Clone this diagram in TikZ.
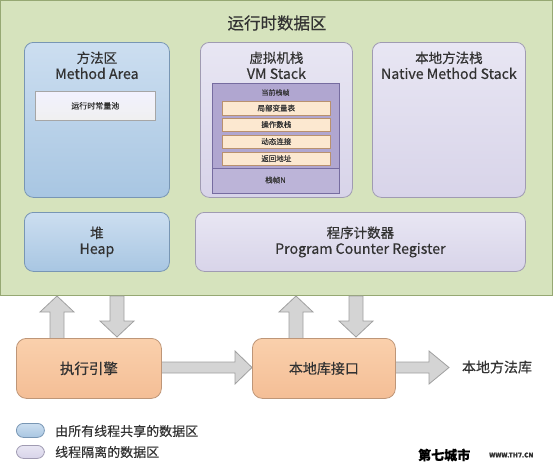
\documentclass[tikz,border=0pt]{standalone}
\usepackage{fontspec}
\setmainfont{Noto Sans CJK SC}[FakeBold=0.35]
\definecolor{greenbg}{RGB}{214,227,189}
\definecolor{greenbd}{RGB}{150,168,115}
\definecolor{bluetop}{RGB}{204,222,240}
\definecolor{bluebot}{RGB}{168,198,226}
\definecolor{bluebd}{RGB}{120,150,180}
\definecolor{purtop}{RGB}{232,230,243}
\definecolor{purbot}{RGB}{216,212,233}
\definecolor{purbd}{RGB}{160,155,178}
\definecolor{vmfill}{RGB}{188,180,216}
\definecolor{vmtop}{RGB}{176,166,208}
\definecolor{vmbd}{RGB}{118,108,160}
\definecolor{rowfill}{RGB}{252,232,208}
\definecolor{rowbd}{RGB}{185,145,110}
\definecolor{ortop}{RGB}{250,208,172}
\definecolor{orbot}{RGB}{244,190,150}
\definecolor{orbd}{RGB}{190,150,120}
\definecolor{arrfill}{RGB}{212,212,212}
\definecolor{arrbd}{RGB}{160,160,160}
\definecolor{txt}{RGB}{50,50,50}
\newcommand\lat{\fontsize{14.2}{16}\selectfont}
\tikzset{
  area/.style={anchor=north west, rounded corners=9pt, line width=0.8pt, inner sep=0pt},
  bluebox/.style={area, draw=bluebd, top color=bluetop, bottom color=bluebot},
  purbox/.style={area, draw=purbd, top color=purtop, bottom color=purbot},
  orbox/.style={area, rounded corners=10pt, draw=orbd, top color=ortop, bottom color=orbot},
  rowbox/.style={anchor=north west, draw=rowbd, fill=rowfill, line width=0.6pt, minimum width=108, minimum height=13.5, inner sep=0pt, text=txt, font=\fontsize{7.5}{8}\selectfont},
  fatarrow/.style={draw=arrbd, fill=arrfill, line width=0.8pt, line join=miter},
  big/.style={text=txt, align=center, font=\fontsize{13.5}{16}\selectfont},
}
\newcommand\varr[3]{%
  \pgfmathsetmacro\hb{#3>#2 ? #3-16 : #3+16}%
  \draw[fatarrow] (#1-7,#2) -- (#1-7,\hb) -- (#1-17,\hb) -- (#1,#3) -- (#1+17,\hb) -- (#1+7,\hb) -- (#1+7,#2) -- cycle;}
\newcommand\harr[4]{%
  \pgfmathsetmacro\hb{#3-#4}%
  \draw[fatarrow] (#2,#1-5.5) -- (\hb,#1-5.5) -- (\hb,#1-16.5) -- (#3,#1) -- (\hb,#1+16.5) -- (\hb,#1+5.5) -- (#2,#1+5.5) -- cycle;}
\begin{document}
\begin{tikzpicture}[x=1pt,y=-1pt]
\useasboundingbox (0,0) rectangle (554,464);
% runtime data area
\node[anchor=north west, draw=greenbd, fill=greenbg, line width=0.8pt, minimum width=552, minimum height=295, inner sep=0pt] (rda) at (0.4,0.4) {};
\node[text=txt, font=\fontsize{16.5}{19}\selectfont] (title) at (277,23) {运行时数据区};
% method area
\node[bluebox, minimum width=145, minimum height=155] (ma) at (24,42) {};
\node[big, anchor=north] (matxt) at ([yshift=-6pt]ma.north) {方法区\\\lat Method Area};
\node[anchor=north west, draw=gray!70, top color=white!95!blue, bottom color=gray!12, line width=0.6pt, minimum width=120, minimum height=29, inner sep=0pt, text=txt, font=\fontsize{8}{9}\selectfont] (rcp) at (35,91) {运行时常量池};
% vm stack
\node[purbox, minimum width=152, minimum height=155] (vm) at (200,42) {};
\node[big, anchor=north] (vmtxt) at ([yshift=-6pt]vm.north) {虚拟机栈\\\lat VM Stack};
\node[anchor=north west, draw=vmbd, fill=vmfill, line width=0.8pt, minimum width=127, minimum height=110, inner sep=0pt] (frames) at (212,83) {};
\node[anchor=north west, draw=vmbd, fill=vmtop, line width=0.6pt, minimum width=127, minimum height=85, inner sep=0pt] (cur) at (212,83) {};
\node[text=txt, font=\fontsize{7}{8}\selectfont] (curtxt) at (275.5,92.5) {当前栈帧};
\node[rowbox] (r1) at (222,101) {局部变量表};
\node[rowbox] (r2) at (222,117.5) {操作数栈};
\node[rowbox] (r3) at (222,134.5) {动态连接};
\node[rowbox] (r4) at (222,151.5) {返回地址};
\node[text=txt, font=\fontsize{7.5}{8}\selectfont] (fn) at (275.5,180) {栈帧N};
% native method stack
\node[purbox, minimum width=153, minimum height=155] (nm) at (372,42) {};
\node[big, anchor=north] (nmtxt) at ([yshift=-6pt]nm.north) {本地方法栈\\\lat Native Method Stack};
% heap and pc
\node[bluebox, minimum width=145, minimum height=59] (heap) at (24,212) {};
\node[big] (heaptxt) at (heap.center) {堆\\\lat Heap};
\node[purbox, minimum width=330, minimum height=59] (pcr) at (195,212) {};
\node[big] (pcrtxt) at (pcr.center) {程序计数器\\\lat Program Counter Register};
% arrows
\varr{57}{340}{296}
\varr{117}{296}{337}
\varr{296}{340}{296}
\varr{356}{296}{337}
\harr{367.5}{158}{252}{17}
\harr{367.5}{392}{449}{20}
% bottom boxes
\node[orbox, minimum width=145, minimum height=60] (ee) at (16,338) {};
\node[big, font=\fontsize{14.5}{16}\selectfont] (eetxt) at (ee.center) {执行引擎};
\node[orbox, minimum width=143, minimum height=60] (ni) at (252,338) {};
\node[big, font=\fontsize{14}{16}\selectfont] (nitxt) at (ni.center) {本地库接口};
\node[big, font=\fontsize{14}{16}\selectfont] (nml) at (497,367) {本地方法库};
% legend
\node[anchor=north west, rounded corners=7pt, draw=bluebd, top color=bluetop, bottom color=bluebot, line width=0.8pt, minimum width=28, minimum height=14, inner sep=0pt] (lg1) at (16,423) {};
\node[anchor=west, text=txt, font=\fontsize{13}{15}\selectfont, inner sep=0pt] (lg1t) at (55,431) {由所有线程共享的数据区};
\node[anchor=north west, rounded corners=7pt, draw=purbd, top color=purtop, bottom color=purbot, line width=0.8pt, minimum width=28, minimum height=13, inner sep=0pt] (lg2) at (16,445) {};
\node[anchor=west, text=txt, font=\fontsize{13}{15}\selectfont, inner sep=0pt] (lg2t) at (55,452) {线程隔离的数据区};
% watermark
\node[anchor=west, text=black, font=\fontsize{13}{14}\selectfont\bfseries, inner sep=0pt] (wm1) at (418,455) {第七城市};
\node[anchor=west, text=black!80, font=\fontsize{6.5}{8}\selectfont\bfseries, inner sep=0pt] (wm2) at (489,455) {WWW.TH7.CN};
\end{tikzpicture}
\end{document}
